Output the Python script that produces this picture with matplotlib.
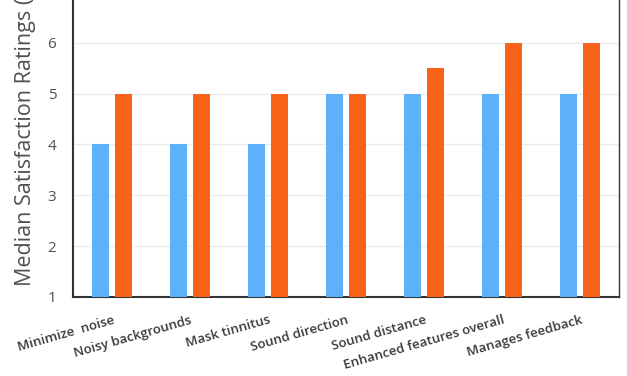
import numpy as np
import matplotlib
matplotlib.use("Agg")
import matplotlib.pyplot as plt

# data
categories = ["Minimize  noise", "Noisy backgrounds", "Mask tinnitus", "Sound direction",
              "Sound distance", "Enhanced features overall", "Manages feedback"]
blue_vals = [4, 4, 4, 5, 5, 5, 5]
orange_vals = [5, 5, 5, 5, 5.5, 6, 6]
y_ticks = [1, 2, 3, 4, 5, 6]

plt.rcParams["font.family"] = ["Open Sans", "DejaVu Sans"]

fig = plt.figure(figsize=(6.27, 3.76), dpi=100)
ax = fig.add_axes([73 / 627, 79 / 376, 546 / 627, 297 / 376])

x = np.arange(len(categories))
w = 0.22
ax.bar(x - 0.148, blue_vals, w, bottom=0, color="#5db1f8", zorder=3)
ax.bar(x + 0.148, orange_vals, w, bottom=0, color="#f86319", zorder=3)

ax.set_xlim(-0.5, len(categories) - 0.5)
ax.set_ylim(1, 6.84)
ax.set_yticks(y_ticks)
ax.set_yticklabels([str(t) for t in y_ticks], fontsize=11, color="#505050")
ax.yaxis.grid(True, color="#ececec", lw=1, zorder=0)
ax.tick_params(axis="both", length=0)
ax.tick_params(axis="y", pad=12)

ax.set_xticks(x)
ax.set_xticklabels(categories, rotation=16, ha="right", rotation_mode="anchor",
                   fontsize=9.5, fontweight="semibold", color="#3a3a3a")
ax.tick_params(axis="x", pad=12)

for s in ["left", "bottom", "right"]:
    ax.spines[s].set_color("#333333")
    ax.spines[s].set_linewidth(1.5)
ax.spines["right"].set_linewidth(1.0)
ax.spines["top"].set_visible(False)

fig.text(26 / 627, 90 / 376, "Median Satisfaction Ratings (1-7)", rotation=90,
         ha="center", va="bottom", fontsize=15.5, color="#505050")

fig.savefig("out.png", dpi=100)
